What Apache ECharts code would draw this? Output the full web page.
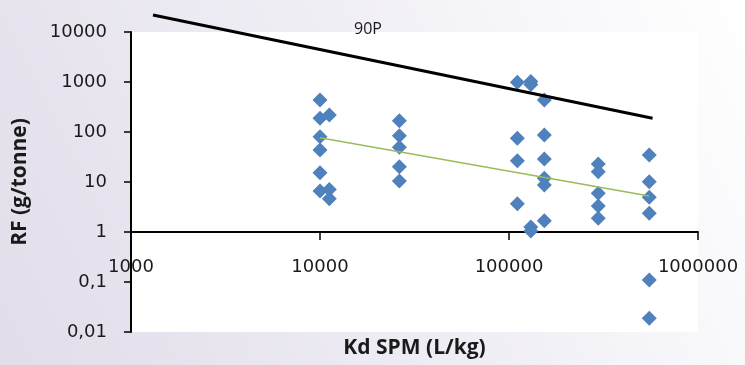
<!DOCTYPE html>
<html>
<head>
<meta charset="utf-8">
<script src="https://cdn.jsdelivr.net/npm/echarts@6/dist/echarts.min.js"></script>
<style>html,body{margin:0;padding:0;}#c{width:745px;height:365px;}</style>
</head>
<body>
<div id="c"></div>
<script>
// Kd SPM (L/kg) and RF (g/tonne) observations
const kdValues = [
  10000, 10000, 10000, 10000, 10000, 10000,
  11200, 11200, 11200,
  26300, 26300, 26300, 26300, 26300,
  110700, 110700, 110700, 110700,
  130400, 130400, 130400, 130400,
  153800, 153800, 153800, 153800, 153800, 153800,
  296600, 296600, 296600, 296600, 296600,
  552000, 552000, 552000, 552000, 552000, 552000
];
const rfValues = [
  437, 188, 80.5, 43.6, 15.3, 6.6,
  219, 7.1, 4.6,
  168, 84.3, 49.4, 20.2, 10.5,
  986, 74.8, 26.7, 3.68,
  1023, 891, 1.26, 1.05,
  437, 87, 28.8, 11.9, 8.7, 1.68,
  22.9, 16.1, 5.94, 3.31, 1.88,
  34.7, 10.1, 4.94, 2.37, 0.11, 0.0188
];
// 90P line
const p90X = [1307, 575000];
const p90Y = [21900, 188];
// trend line
const trendX = [10000, 552000];
const trendY = [76.9, 5.25];
const xTicks = [1000, 10000, 100000, 1000000];
const yTicks = [0.01, 0.1, 1, 10, 100, 1000, 10000];

const chart = echarts.init(document.getElementById('c'));
const pairs = (xs, ys) => xs.map((x, i) => [x, ys[i]]);
const fmtY = v => Number(Number(v).toPrecision(6)).toString().replace('.', ',');
const labelFont = { fontFamily: 'DejaVu Sans', fontSize: 18, color: '#1a1a1a' };

chart.setOption({
  animation: false,
  backgroundColor: {
    type: 'linear', x: 0, y: 1, x2: 1, y2: 0,
    colorStops: [
      { offset: 0, color: '#e1ddea' },
      { offset: 0.5, color: '#efedf4' },
      { offset: 1, color: '#ffffff' }
    ]
  },
  grid: [
    { left: 131, right: 47, top: 32, bottom: 33, show: true, backgroundColor: '#ffffff', borderWidth: 0 },
    { left: 131, right: 47, top: 32, height: 200, show: false }
  ],
  xAxis: [
    {
      gridIndex: 0, type: 'log', logBase: 10, min: xTicks[0], max: xTicks[xTicks.length - 1],
      name: 'Kd SPM (L/kg)', nameLocation: 'middle', nameGap: 6,
      nameTextStyle: { fontFamily: 'Open Sans', fontWeight: 'bold', fontSize: 21, color: '#1a1a1a', verticalAlign: 'top' },
      axisLine: { show: false }, axisTick: { show: false }, axisLabel: { show: false }, splitLine: { show: false }
    },
    {
      gridIndex: 1, type: 'log', logBase: 10, min: xTicks[0], max: xTicks[xTicks.length - 1],
      position: 'bottom',
      axisLine: { show: true, lineStyle: { color: '#000', width: 2 } },
      axisTick: { show: true, length: 8, lineStyle: { color: '#000', width: 1.5 } },
      axisLabel: Object.assign({ margin: 26, formatter: v => String(Math.round(v)) }, labelFont),
      splitLine: { show: false }
    }
  ],
  yAxis: [
    {
      gridIndex: 0, type: 'log', logBase: 10, min: yTicks[0], max: yTicks[yTicks.length - 1],
      name: 'RF (g/tonne)', nameLocation: 'middle', nameGap: 100,
      nameTextStyle: { fontFamily: 'Open Sans', fontWeight: 'bold', fontSize: 21, color: '#1a1a1a' },
      axisLine: { show: true, lineStyle: { color: '#000', width: 2 } },
      axisTick: { show: true, length: 7, lineStyle: { color: '#000', width: 1.5 } },
      axisLabel: Object.assign({ margin: 24, formatter: fmtY }, labelFont),
      splitLine: { show: false }
    },
    {
      gridIndex: 1, type: 'log', logBase: 10, min: 1, max: 10000, show: false
    }
  ],
  graphic: [
    { type: 'text', left: 354, top: 21, style: { text: '90P', fontFamily: 'Open Sans', fontSize: 16, fill: '#1a1a1a' } }
  ],
  series: [
    {
      type: 'scatter', xAxisIndex: 0, yAxisIndex: 0, z: 2,
      symbol: 'diamond', symbolSize: 15,
      itemStyle: { color: '#4f81bd', opacity: 1 },
      data: pairs(kdValues, rfValues)
    },
    {
      type: 'line', xAxisIndex: 0, yAxisIndex: 0, z: 3, clip: false,
      showSymbol: false, symbol: 'none',
      lineStyle: { color: '#000000', width: 3 },
      data: pairs(p90X, p90Y)
    },
    {
      type: 'line', xAxisIndex: 0, yAxisIndex: 0, z: 3,
      showSymbol: false, symbol: 'none',
      lineStyle: { color: '#9bbb59', width: 1.5 },
      data: pairs(trendX, trendY)
    }
  ]
});
</script>
</body>
</html>
